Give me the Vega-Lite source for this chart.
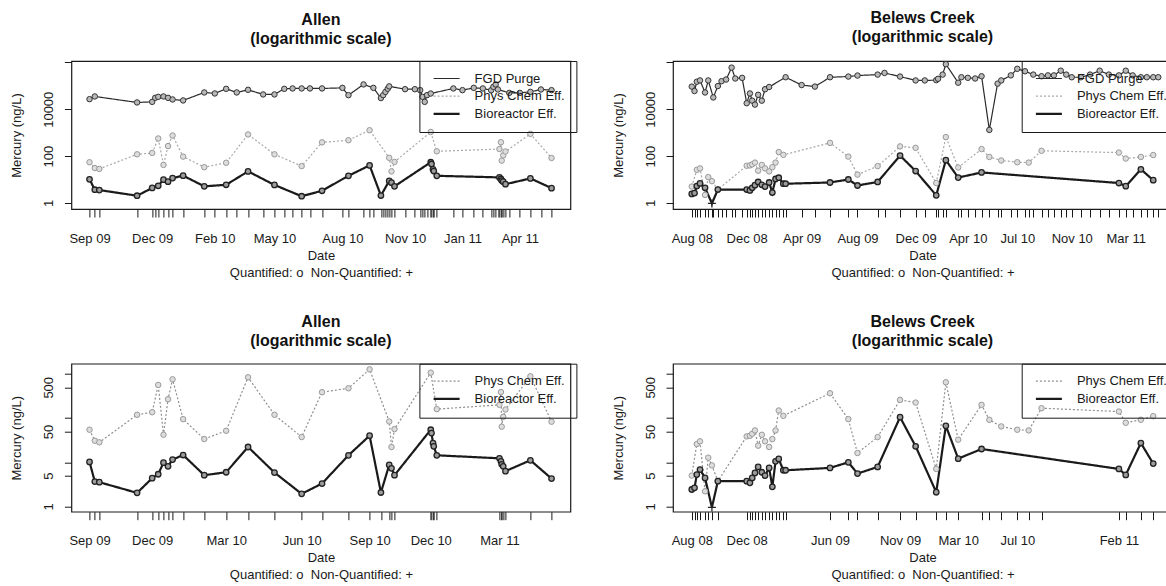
{
  "$schema": "https://vega.github.io/schema/vega-lite/v6.json",
  "background": "white",
  "autosize": {"type": "none"},
  "padding": {"left": 71.4, "top": 61, "right": 1094.6, "bottom": 525},
  "datasets": {
    "allen": [
      {"series":"FGD Purge","date":"2009-09-10","value":27000},
      {"series":"FGD Purge","date":"2009-09-17","value":35200},
      {"series":"FGD Purge","date":"2009-11-12","value":19500},
      {"series":"FGD Purge","date":"2009-12-02","value":20700},
      {"series":"FGD Purge","date":"2009-12-06","value":30700},
      {"series":"FGD Purge","date":"2009-12-10","value":33900},
      {"series":"FGD Purge","date":"2009-12-17","value":35200},
      {"series":"FGD Purge","date":"2009-12-23","value":30700},
      {"series":"FGD Purge","date":"2009-12-29","value":26200},
      {"series":"FGD Purge","date":"2010-01-12","value":23800},
      {"series":"FGD Purge","date":"2010-02-09","value":52200},
      {"series":"FGD Purge","date":"2010-02-23","value":47300},
      {"series":"FGD Purge","date":"2010-03-10","value":74500},
      {"series":"FGD Purge","date":"2010-03-24","value":52200},
      {"series":"FGD Purge","date":"2010-04-08","value":67600},
      {"series":"FGD Purge","date":"2010-04-28","value":42900},
      {"series":"FGD Purge","date":"2010-05-13","value":42900},
      {"series":"FGD Purge","date":"2010-05-26","value":74500},
      {"series":"FGD Purge","date":"2010-06-06","value":77400},
      {"series":"FGD Purge","date":"2010-06-18","value":77400},
      {"series":"FGD Purge","date":"2010-06-29","value":77400},
      {"series":"FGD Purge","date":"2010-07-15","value":77400},
      {"series":"FGD Purge","date":"2010-08-11","value":82000},
      {"series":"FGD Purge","date":"2010-08-19","value":40000},
      {"series":"FGD Purge","date":"2010-09-08","value":115000},
      {"series":"FGD Purge","date":"2010-09-21","value":82000},
      {"series":"FGD Purge","date":"2010-10-01","value":30000},
      {"series":"FGD Purge","date":"2010-10-04","value":40000},
      {"series":"FGD Purge","date":"2010-10-07","value":55000},
      {"series":"FGD Purge","date":"2010-10-10","value":75000},
      {"series":"FGD Purge","date":"2010-10-12","value":95000},
      {"series":"FGD Purge","date":"2010-11-02","value":72000},
      {"series":"FGD Purge","date":"2010-11-15","value":72000},
      {"series":"FGD Purge","date":"2010-11-22","value":65500},
      {"series":"FGD Purge","date":"2010-11-25","value":33900},
      {"series":"FGD Purge","date":"2010-11-28","value":20700},
      {"series":"FGD Purge","date":"2010-12-01","value":40000},
      {"series":"FGD Purge","date":"2010-12-06","value":47000},
      {"series":"FGD Purge","date":"2011-01-05","value":77400},
      {"series":"FGD Purge","date":"2011-01-17","value":65500},
      {"series":"FGD Purge","date":"2011-02-01","value":82000},
      {"series":"FGD Purge","date":"2011-02-13","value":77400},
      {"series":"FGD Purge","date":"2011-02-24","value":65000},
      {"series":"FGD Purge","date":"2011-02-27","value":90600},
      {"series":"FGD Purge","date":"2011-03-02","value":115000},
      {"series":"FGD Purge","date":"2011-03-05","value":70000},
      {"series":"FGD Purge","date":"2011-03-20","value":50000},
      {"series":"FGD Purge","date":"2011-04-03","value":50000},
      {"series":"FGD Purge","date":"2011-04-17","value":55400},
      {"series":"FGD Purge","date":"2011-05-01","value":70000},
      {"series":"FGD Purge","date":"2011-05-15","value":65500},
      {"series":"Phys Chem Eff.","date":"2009-09-10","value":54.6},
      {"series":"Phys Chem Eff.","date":"2009-09-17","value":30.8},
      {"series":"Phys Chem Eff.","date":"2009-09-23","value":28.3},
      {"series":"Phys Chem Eff.","date":"2009-11-12","value":119},
      {"series":"Phys Chem Eff.","date":"2009-12-02","value":136},
      {"series":"Phys Chem Eff.","date":"2009-12-10","value":565},
      {"series":"Phys Chem Eff.","date":"2009-12-17","value":42},
      {"series":"Phys Chem Eff.","date":"2009-12-23","value":268},
      {"series":"Phys Chem Eff.","date":"2009-12-29","value":758},
      {"series":"Phys Chem Eff.","date":"2010-01-12","value":95},
      {"series":"Phys Chem Eff.","date":"2010-02-09","value":33.6},
      {"series":"Phys Chem Eff.","date":"2010-03-10","value":51.8},
      {"series":"Phys Chem Eff.","date":"2010-04-08","value":841},
      {"series":"Phys Chem Eff.","date":"2010-05-13","value":119},
      {"series":"Phys Chem Eff.","date":"2010-06-18","value":37.3},
      {"series":"Phys Chem Eff.","date":"2010-07-15","value":386},
      {"series":"Phys Chem Eff.","date":"2010-08-19","value":475},
      {"series":"Phys Chem Eff.","date":"2010-09-16","value":1274},
      {"series":"Phys Chem Eff.","date":"2010-10-12","value":84},
      {"series":"Phys Chem Eff.","date":"2010-10-15","value":22.2},
      {"series":"Phys Chem Eff.","date":"2010-10-19","value":56.5},
      {"series":"Phys Chem Eff.","date":"2010-12-06","value":1072},
      {"series":"Phys Chem Eff.","date":"2010-12-14","value":160},
      {"series":"Phys Chem Eff.","date":"2011-03-07","value":200},
      {"series":"Phys Chem Eff.","date":"2011-03-09","value":390},
      {"series":"Phys Chem Eff.","date":"2011-03-10","value":64},
      {"series":"Phys Chem Eff.","date":"2011-03-12","value":107},
      {"series":"Phys Chem Eff.","date":"2011-03-15","value":157},
      {"series":"Phys Chem Eff.","date":"2011-04-17","value":888},
      {"series":"Phys Chem Eff.","date":"2011-05-15","value":83},
      {"series":"Bioreactor Eff.","date":"2009-09-10","value":10.2},
      {"series":"Bioreactor Eff.","date":"2009-09-17","value":3.66},
      {"series":"Bioreactor Eff.","date":"2009-09-23","value":3.54},
      {"series":"Bioreactor Eff.","date":"2009-11-12","value":2.03},
      {"series":"Bioreactor Eff.","date":"2009-12-02","value":4.36},
      {"series":"Bioreactor Eff.","date":"2009-12-10","value":5.36},
      {"series":"Bioreactor Eff.","date":"2009-12-17","value":9.8},
      {"series":"Bioreactor Eff.","date":"2009-12-23","value":8.1},
      {"series":"Bioreactor Eff.","date":"2009-12-29","value":11.5},
      {"series":"Bioreactor Eff.","date":"2010-01-12","value":14.6},
      {"series":"Bioreactor Eff.","date":"2010-02-09","value":5.1},
      {"series":"Bioreactor Eff.","date":"2010-03-10","value":5.95},
      {"series":"Bioreactor Eff.","date":"2010-04-08","value":22.2},
      {"series":"Bioreactor Eff.","date":"2010-05-13","value":5.85},
      {"series":"Bioreactor Eff.","date":"2010-06-18","value":1.93},
      {"series":"Bioreactor Eff.","date":"2010-07-15","value":3.3},
      {"series":"Bioreactor Eff.","date":"2010-08-19","value":14.4},
      {"series":"Bioreactor Eff.","date":"2010-09-16","value":40},
      {"series":"Bioreactor Eff.","date":"2010-10-01","value":2.07},
      {"series":"Bioreactor Eff.","date":"2010-10-12","value":8.7},
      {"series":"Bioreactor Eff.","date":"2010-10-15","value":7.3},
      {"series":"Bioreactor Eff.","date":"2010-10-19","value":5.1},
      {"series":"Bioreactor Eff.","date":"2010-12-06","value":54.6},
      {"series":"Bioreactor Eff.","date":"2010-12-07","value":45.9},
      {"series":"Bioreactor Eff.","date":"2010-12-09","value":27.3},
      {"series":"Bioreactor Eff.","date":"2010-12-10","value":23},
      {"series":"Bioreactor Eff.","date":"2010-12-14","value":14.4},
      {"series":"Bioreactor Eff.","date":"2011-03-07","value":12.3},
      {"series":"Bioreactor Eff.","date":"2011-03-09","value":10.5},
      {"series":"Bioreactor Eff.","date":"2011-03-10","value":9.0},
      {"series":"Bioreactor Eff.","date":"2011-03-12","value":8.1},
      {"series":"Bioreactor Eff.","date":"2011-03-15","value":6.3},
      {"series":"Bioreactor Eff.","date":"2011-04-17","value":11.1},
      {"series":"Bioreactor Eff.","date":"2011-05-15","value":4.28}
    ],
    "belews": [
      {"series":"FGD Purge","date":"2008-08-08","value":92700},
      {"series":"FGD Purge","date":"2008-08-14","value":60000},
      {"series":"FGD Purge","date":"2008-08-19","value":150000},
      {"series":"FGD Purge","date":"2008-08-26","value":170000},
      {"series":"FGD Purge","date":"2008-09-06","value":52000},
      {"series":"FGD Purge","date":"2008-09-13","value":170000},
      {"series":"FGD Purge","date":"2008-09-24","value":32000},
      {"series":"FGD Purge","date":"2008-10-04","value":98000},
      {"series":"FGD Purge","date":"2008-10-12","value":158000},
      {"series":"FGD Purge","date":"2008-10-22","value":186000},
      {"series":"FGD Purge","date":"2008-11-03","value":600000},
      {"series":"FGD Purge","date":"2008-11-11","value":206000},
      {"series":"FGD Purge","date":"2008-11-26","value":219000},
      {"series":"FGD Purge","date":"2008-12-06","value":18100},
      {"series":"FGD Purge","date":"2008-12-13","value":47300},
      {"series":"FGD Purge","date":"2008-12-18","value":23300},
      {"series":"FGD Purge","date":"2008-12-24","value":15800},
      {"series":"FGD Purge","date":"2008-12-31","value":41400},
      {"series":"FGD Purge","date":"2009-01-08","value":23300},
      {"series":"FGD Purge","date":"2009-01-15","value":71500},
      {"series":"FGD Purge","date":"2009-01-24","value":89100},
      {"series":"FGD Purge","date":"2009-03-01","value":233000},
      {"series":"FGD Purge","date":"2009-04-05","value":108000},
      {"series":"FGD Purge","date":"2009-05-04","value":92700},
      {"series":"FGD Purge","date":"2009-06-06","value":233000},
      {"series":"FGD Purge","date":"2009-07-16","value":249000},
      {"series":"FGD Purge","date":"2009-08-05","value":275000},
      {"series":"FGD Purge","date":"2009-09-18","value":302000},
      {"series":"FGD Purge","date":"2009-10-03","value":355000},
      {"series":"FGD Purge","date":"2009-11-06","value":249000},
      {"series":"FGD Purge","date":"2009-12-10","value":170000},
      {"series":"FGD Purge","date":"2009-12-30","value":170000},
      {"series":"FGD Purge","date":"2010-01-24","value":175000},
      {"series":"FGD Purge","date":"2010-01-28","value":200000},
      {"series":"FGD Purge","date":"2010-02-07","value":302000},
      {"series":"FGD Purge","date":"2010-02-14","value":842000},
      {"series":"FGD Purge","date":"2010-03-13","value":136000},
      {"series":"FGD Purge","date":"2010-03-20","value":233000},
      {"series":"FGD Purge","date":"2010-04-03","value":220000},
      {"series":"FGD Purge","date":"2010-04-19","value":206000},
      {"series":"FGD Purge","date":"2010-05-03","value":257000},
      {"series":"FGD Purge","date":"2010-05-20","value":1310},
      {"series":"FGD Purge","date":"2010-06-07","value":124000},
      {"series":"FGD Purge","date":"2010-06-15","value":170000},
      {"series":"FGD Purge","date":"2010-07-06","value":280000},
      {"series":"FGD Purge","date":"2010-07-20","value":534000},
      {"series":"FGD Purge","date":"2010-08-06","value":420000},
      {"series":"FGD Purge","date":"2010-08-24","value":302000},
      {"series":"FGD Purge","date":"2010-09-11","value":257000},
      {"series":"FGD Purge","date":"2010-09-25","value":280000},
      {"series":"FGD Purge","date":"2010-10-08","value":280000},
      {"series":"FGD Purge","date":"2010-10-23","value":443000},
      {"series":"FGD Purge","date":"2010-11-04","value":302000},
      {"series":"FGD Purge","date":"2010-11-16","value":233000},
      {"series":"FGD Purge","date":"2010-12-06","value":233000},
      {"series":"FGD Purge","date":"2010-12-26","value":302000},
      {"series":"FGD Purge","date":"2011-01-16","value":443000},
      {"series":"FGD Purge","date":"2011-02-05","value":302000},
      {"series":"FGD Purge","date":"2011-02-27","value":280000},
      {"series":"FGD Purge","date":"2011-03-14","value":443000},
      {"series":"FGD Purge","date":"2011-03-29","value":280000},
      {"series":"FGD Purge","date":"2011-04-16","value":233000},
      {"series":"FGD Purge","date":"2011-04-29","value":233000},
      {"series":"FGD Purge","date":"2011-05-13","value":233000},
      {"series":"FGD Purge","date":"2011-05-24","value":233000},
      {"series":"Phys Chem Eff.","date":"2008-08-08","value":5.0},
      {"series":"Phys Chem Eff.","date":"2008-08-19","value":25.9},
      {"series":"Phys Chem Eff.","date":"2008-08-26","value":29.8},
      {"series":"Phys Chem Eff.","date":"2008-09-06","value":2.2},
      {"series":"Phys Chem Eff.","date":"2008-09-13","value":12.7},
      {"series":"Phys Chem Eff.","date":"2008-09-21","value":8.5},
      {"series":"Phys Chem Eff.","date":"2008-10-04","value":3.73},
      {"series":"Phys Chem Eff.","date":"2008-12-06","value":38.6},
      {"series":"Phys Chem Eff.","date":"2008-12-13","value":39.9},
      {"series":"Phys Chem Eff.","date":"2008-12-18","value":44.3},
      {"series":"Phys Chem Eff.","date":"2008-12-24","value":52.7},
      {"series":"Phys Chem Eff.","date":"2008-12-31","value":23.8},
      {"series":"Phys Chem Eff.","date":"2009-01-08","value":42},
      {"series":"Phys Chem Eff.","date":"2009-01-15","value":29.8},
      {"series":"Phys Chem Eff.","date":"2009-01-24","value":22.2},
      {"series":"Phys Chem Eff.","date":"2009-01-31","value":33.6},
      {"series":"Phys Chem Eff.","date":"2009-02-07","value":52.7},
      {"series":"Phys Chem Eff.","date":"2009-02-14","value":149},
      {"series":"Phys Chem Eff.","date":"2009-02-24","value":113},
      {"series":"Phys Chem Eff.","date":"2009-06-06","value":366},
      {"series":"Phys Chem Eff.","date":"2009-07-16","value":95},
      {"series":"Phys Chem Eff.","date":"2009-08-05","value":16.2},
      {"series":"Phys Chem Eff.","date":"2009-09-18","value":37.3},
      {"series":"Phys Chem Eff.","date":"2009-11-06","value":259},
      {"series":"Phys Chem Eff.","date":"2009-12-10","value":225},
      {"series":"Phys Chem Eff.","date":"2010-01-24","value":7.07},
      {"series":"Phys Chem Eff.","date":"2010-02-14","value":649},
      {"series":"Phys Chem Eff.","date":"2010-03-13","value":32.5},
      {"series":"Phys Chem Eff.","date":"2010-05-03","value":200},
      {"series":"Phys Chem Eff.","date":"2010-05-20","value":91.7},
      {"series":"Phys Chem Eff.","date":"2010-06-15","value":64.9},
      {"series":"Phys Chem Eff.","date":"2010-07-20","value":54.6},
      {"series":"Phys Chem Eff.","date":"2010-08-14","value":52.7},
      {"series":"Phys Chem Eff.","date":"2010-09-11","value":168},
      {"series":"Phys Chem Eff.","date":"2011-02-27","value":141},
      {"series":"Phys Chem Eff.","date":"2011-03-14","value":78.5},
      {"series":"Phys Chem Eff.","date":"2011-04-16","value":92},
      {"series":"Phys Chem Eff.","date":"2011-05-13","value":111},
      {"series":"Bioreactor Eff.","date":"2008-08-08","value":2.42},
      {"series":"Bioreactor Eff.","date":"2008-08-14","value":2.64},
      {"series":"Bioreactor Eff.","date":"2008-08-19","value":5.27},
      {"series":"Bioreactor Eff.","date":"2008-08-26","value":6.83},
      {"series":"Bioreactor Eff.","date":"2008-09-06","value":4.43},
      {"series":"Bioreactor Eff.","date":"2008-09-21","value":0.95,"q":"+"},
      {"series":"Bioreactor Eff.","date":"2008-10-04","value":3.73},
      {"series":"Bioreactor Eff.","date":"2008-12-06","value":3.73},
      {"series":"Bioreactor Eff.","date":"2008-12-13","value":3.42},
      {"series":"Bioreactor Eff.","date":"2008-12-18","value":4.43},
      {"series":"Bioreactor Eff.","date":"2008-12-24","value":5.74},
      {"series":"Bioreactor Eff.","date":"2008-12-31","value":7.85},
      {"series":"Bioreactor Eff.","date":"2009-01-08","value":5.95},
      {"series":"Bioreactor Eff.","date":"2009-01-15","value":5.0},
      {"series":"Bioreactor Eff.","date":"2009-01-24","value":7.45},
      {"series":"Bioreactor Eff.","date":"2009-01-31","value":2.78},
      {"series":"Bioreactor Eff.","date":"2009-02-07","value":10.5},
      {"series":"Bioreactor Eff.","date":"2009-02-14","value":11.9},
      {"series":"Bioreactor Eff.","date":"2009-02-24","value":6.6},
      {"series":"Bioreactor Eff.","date":"2009-03-01","value":6.6},
      {"series":"Bioreactor Eff.","date":"2009-06-06","value":7.45},
      {"series":"Bioreactor Eff.","date":"2009-07-16","value":10},
      {"series":"Bioreactor Eff.","date":"2009-08-05","value":5.55},
      {"series":"Bioreactor Eff.","date":"2009-09-18","value":7.85},
      {"series":"Bioreactor Eff.","date":"2009-11-06","value":105},
      {"series":"Bioreactor Eff.","date":"2009-12-10","value":23},
      {"series":"Bioreactor Eff.","date":"2010-01-24","value":2.1},
      {"series":"Bioreactor Eff.","date":"2010-02-14","value":67},
      {"series":"Bioreactor Eff.","date":"2010-03-13","value":12.1},
      {"series":"Bioreactor Eff.","date":"2010-05-03","value":20},
      {"series":"Bioreactor Eff.","date":"2011-02-27","value":7.07},
      {"series":"Bioreactor Eff.","date":"2011-03-14","value":5.18},
      {"series":"Bioreactor Eff.","date":"2011-04-16","value":27.3},
      {"series":"Bioreactor Eff.","date":"2011-05-13","value":9.33}
    ]
  },
  "columns": 2,
  "spacing": {"row": 154.7, "column": 102.6},
  "bounds": "flush",
  "resolve": {
    "scale": {"stroke": "independent", "strokeDash": "independent", "strokeWidth": "independent"},
    "legend": {"stroke": "independent", "strokeDash": "independent", "strokeWidth": "independent"}
  },
  "concat": [
    {
      "width": 499, "height": 148,
      "data": {"name": "allen"},
      "title": {"text": ["Allen", "(logarithmic scale)"]},
      "encoding": {
        "x": {"field": "date", "type": "temporal",
          "scale": {"domain": [{"year":2009,"month":8,"date":17,"utc":true},{"year":2011,"month":6,"date":9,"utc":true}], "nice": false},
          "axis": {"title": ["Date", "Quantified: o\u00a0 Non-Quantified: +"],
            "labelExpr": "indexof(['2009-09-10','2009-12-02','2010-02-23','2010-05-13','2010-08-11','2010-11-02','2011-01-17','2011-04-03'], utcFormat(datum.value, '%Y-%m-%d')) >= 0 ? utcFormat(datum.value, '%b %y') : ''",
            "values": [
              {"year":2009,"month":9,"date":10,"utc":true},{"year":2009,"month":9,"date":17,"utc":true},{"year":2009,"month":9,"date":23,"utc":true},{"year":2009,"month":11,"date":12,"utc":true},{"year":2009,"month":12,"date":2,"utc":true},{"year":2009,"month":12,"date":6,"utc":true},{"year":2009,"month":12,"date":10,"utc":true},{"year":2009,"month":12,"date":17,"utc":true},{"year":2009,"month":12,"date":23,"utc":true},{"year":2009,"month":12,"date":29,"utc":true},
              {"year":2010,"month":1,"date":12,"utc":true},{"year":2010,"month":2,"date":9,"utc":true},{"year":2010,"month":2,"date":23,"utc":true},{"year":2010,"month":3,"date":10,"utc":true},{"year":2010,"month":3,"date":24,"utc":true},{"year":2010,"month":4,"date":8,"utc":true},{"year":2010,"month":4,"date":28,"utc":true},{"year":2010,"month":5,"date":13,"utc":true},{"year":2010,"month":5,"date":26,"utc":true},{"year":2010,"month":6,"date":6,"utc":true},{"year":2010,"month":6,"date":18,"utc":true},{"year":2010,"month":6,"date":29,"utc":true},{"year":2010,"month":7,"date":15,"utc":true},{"year":2010,"month":8,"date":11,"utc":true},{"year":2010,"month":8,"date":19,"utc":true},{"year":2010,"month":9,"date":8,"utc":true},{"year":2010,"month":9,"date":16,"utc":true},{"year":2010,"month":9,"date":21,"utc":true},{"year":2010,"month":10,"date":1,"utc":true},{"year":2010,"month":10,"date":4,"utc":true},{"year":2010,"month":10,"date":7,"utc":true},{"year":2010,"month":10,"date":10,"utc":true},{"year":2010,"month":10,"date":12,"utc":true},{"year":2010,"month":10,"date":15,"utc":true},{"year":2010,"month":10,"date":19,"utc":true},{"year":2010,"month":11,"date":2,"utc":true},{"year":2010,"month":11,"date":15,"utc":true},{"year":2010,"month":11,"date":22,"utc":true},{"year":2010,"month":11,"date":25,"utc":true},{"year":2010,"month":11,"date":28,"utc":true},{"year":2010,"month":12,"date":1,"utc":true},{"year":2010,"month":12,"date":6,"utc":true},{"year":2010,"month":12,"date":7,"utc":true},{"year":2010,"month":12,"date":9,"utc":true},{"year":2010,"month":12,"date":10,"utc":true},{"year":2010,"month":12,"date":14,"utc":true},
              {"year":2011,"month":1,"date":5,"utc":true},{"year":2011,"month":1,"date":17,"utc":true},{"year":2011,"month":2,"date":1,"utc":true},{"year":2011,"month":2,"date":13,"utc":true},{"year":2011,"month":2,"date":24,"utc":true},{"year":2011,"month":2,"date":27,"utc":true},{"year":2011,"month":3,"date":2,"utc":true},{"year":2011,"month":3,"date":5,"utc":true},{"year":2011,"month":3,"date":7,"utc":true},{"year":2011,"month":3,"date":9,"utc":true},{"year":2011,"month":3,"date":10,"utc":true},{"year":2011,"month":3,"date":12,"utc":true},{"year":2011,"month":3,"date":15,"utc":true},{"year":2011,"month":3,"date":20,"utc":true},{"year":2011,"month":4,"date":3,"utc":true},{"year":2011,"month":4,"date":17,"utc":true},{"year":2011,"month":5,"date":1,"utc":true},{"year":2011,"month":5,"date":15,"utc":true}
            ]}},
        "y": {"field": "value", "type": "quantitative",
          "scale": {"type": "log", "domain": [0.55, 1150000], "nice": false},
          "axis": {"title": "Mercury (ng/L)", "values": [1, 100, 10000, 1000000],
            "labelExpr": "datum.value > 100000 ? '' : format(datum.value, 'd')"}}
      },
      "layer": [
        {"mark": {"type": "line"},
         "encoding": {
           "stroke": {"field": "series", "type": "nominal",
             "scale": {"domain": ["FGD Purge", "Phys Chem Eff.", "Bioreactor Eff."], "range": ["#2b2b2b", "#a8a8a8", "#1a1a1a"]},
             "legend": {"title": null, "orient": "none", "legendX": 348, "legendY": 0, "padding": 11, "strokeColor": "#1a1a1a", "symbolType": "M-0.825,0L5.675,0", "symbolSize": 64, "labelOffset": 31.2, "rowPadding": 3.7, "labelFontSize": 13, "labelFont": "Liberation Sans", "labelColor": "#1a1a1a"}},
           "strokeDash": {"field": "series", "type": "nominal",
             "scale": {"domain": ["FGD Purge", "Phys Chem Eff.", "Bioreactor Eff."], "range": [[1, 0], [2, 2], [1, 0]]}},
           "strokeWidth": {"field": "series", "type": "nominal",
             "scale": {"type": "ordinal", "domain": ["FGD Purge", "Phys Chem Eff.", "Bioreactor Eff."], "range": [1.2, 1.2, 2.2]}}
         }},
        {"transform": [{"filter": "datum.series === 'FGD Purge'"}],
         "mark": {"type": "point", "shape": "circle", "size": 30, "filled": true, "fill": "#b8b8b8", "stroke": "#333333", "strokeWidth": 1, "opacity": 1}},
        {"transform": [{"filter": "datum.series === 'Phys Chem Eff.'"}],
         "mark": {"type": "point", "shape": "circle", "size": 30, "filled": true, "fill": "#dddddd", "stroke": "#999999", "strokeWidth": 1, "opacity": 1}},
        {"transform": [{"filter": "datum.series === 'Bioreactor Eff.' && datum.q !== '+'"}],
         "mark": {"type": "point", "shape": "circle", "size": 30, "filled": true, "fill": "#9d9d9d", "stroke": "#222222", "strokeWidth": 1.3, "opacity": 1}}
      ]
    },
    {
      "width": 499, "height": 148,
      "data": {"name": "belews"},
      "title": {"text": ["Belews Creek", "(logarithmic scale)"]},
      "encoding": {
        "x": {"field": "date", "type": "temporal",
          "scale": {"domain": [{"year":2008,"month":6,"date":28,"utc":true},{"year":2011,"month":6,"date":23,"utc":true}], "nice": false},
          "axis": {"title": ["Date", "Quantified: o\u00a0 Non-Quantified: +"],
            "labelExpr": "indexof(['2008-08-08','2008-12-06','2009-04-05','2009-08-05','2009-12-10','2010-04-03','2010-07-20','2010-11-16','2011-03-14'], utcFormat(datum.value, '%Y-%m-%d')) >= 0 ? utcFormat(datum.value, '%b %y') : ''",
            "values": [
              {"year":2008,"month":8,"date":8,"utc":true},{"year":2008,"month":8,"date":14,"utc":true},{"year":2008,"month":8,"date":19,"utc":true},{"year":2008,"month":8,"date":26,"utc":true},{"year":2008,"month":9,"date":6,"utc":true},{"year":2008,"month":9,"date":13,"utc":true},{"year":2008,"month":9,"date":21,"utc":true},{"year":2008,"month":9,"date":24,"utc":true},{"year":2008,"month":10,"date":4,"utc":true},{"year":2008,"month":10,"date":12,"utc":true},{"year":2008,"month":10,"date":22,"utc":true},{"year":2008,"month":11,"date":3,"utc":true},{"year":2008,"month":11,"date":11,"utc":true},{"year":2008,"month":11,"date":26,"utc":true},{"year":2008,"month":12,"date":6,"utc":true},{"year":2008,"month":12,"date":13,"utc":true},{"year":2008,"month":12,"date":18,"utc":true},{"year":2008,"month":12,"date":24,"utc":true},{"year":2008,"month":12,"date":31,"utc":true},
              {"year":2009,"month":1,"date":8,"utc":true},{"year":2009,"month":1,"date":15,"utc":true},{"year":2009,"month":1,"date":24,"utc":true},{"year":2009,"month":1,"date":31,"utc":true},{"year":2009,"month":2,"date":7,"utc":true},{"year":2009,"month":2,"date":14,"utc":true},{"year":2009,"month":2,"date":24,"utc":true},{"year":2009,"month":3,"date":1,"utc":true},{"year":2009,"month":4,"date":5,"utc":true},{"year":2009,"month":5,"date":4,"utc":true},{"year":2009,"month":6,"date":6,"utc":true},{"year":2009,"month":7,"date":16,"utc":true},{"year":2009,"month":8,"date":5,"utc":true},{"year":2009,"month":9,"date":18,"utc":true},{"year":2009,"month":10,"date":3,"utc":true},{"year":2009,"month":11,"date":6,"utc":true},{"year":2009,"month":12,"date":10,"utc":true},{"year":2009,"month":12,"date":30,"utc":true},
              {"year":2010,"month":1,"date":24,"utc":true},{"year":2010,"month":1,"date":28,"utc":true},{"year":2010,"month":2,"date":7,"utc":true},{"year":2010,"month":2,"date":14,"utc":true},{"year":2010,"month":3,"date":13,"utc":true},{"year":2010,"month":3,"date":20,"utc":true},{"year":2010,"month":4,"date":3,"utc":true},{"year":2010,"month":4,"date":19,"utc":true},{"year":2010,"month":5,"date":3,"utc":true},{"year":2010,"month":5,"date":20,"utc":true},{"year":2010,"month":6,"date":7,"utc":true},{"year":2010,"month":6,"date":15,"utc":true},{"year":2010,"month":7,"date":6,"utc":true},{"year":2010,"month":7,"date":20,"utc":true},{"year":2010,"month":8,"date":6,"utc":true},{"year":2010,"month":8,"date":14,"utc":true},{"year":2010,"month":8,"date":24,"utc":true},{"year":2010,"month":9,"date":11,"utc":true},{"year":2010,"month":9,"date":25,"utc":true},{"year":2010,"month":10,"date":8,"utc":true},{"year":2010,"month":10,"date":23,"utc":true},{"year":2010,"month":11,"date":4,"utc":true},{"year":2010,"month":11,"date":16,"utc":true},{"year":2010,"month":12,"date":6,"utc":true},{"year":2010,"month":12,"date":26,"utc":true},
              {"year":2011,"month":1,"date":16,"utc":true},{"year":2011,"month":2,"date":5,"utc":true},{"year":2011,"month":2,"date":27,"utc":true},{"year":2011,"month":3,"date":14,"utc":true},{"year":2011,"month":3,"date":29,"utc":true},{"year":2011,"month":4,"date":16,"utc":true},{"year":2011,"month":4,"date":29,"utc":true},{"year":2011,"month":5,"date":13,"utc":true},{"year":2011,"month":5,"date":24,"utc":true}
            ]}},
        "y": {"field": "value", "type": "quantitative",
          "scale": {"type": "log", "domain": [0.55, 1150000], "nice": false},
          "axis": {"title": "Mercury (ng/L)", "values": [1, 100, 10000, 1000000],
            "labelExpr": "datum.value > 100000 ? '' : format(datum.value, 'd')"}}
      },
      "layer": [
        {"mark": {"type": "line"},
         "encoding": {
           "stroke": {"field": "series", "type": "nominal",
             "scale": {"domain": ["FGD Purge", "Phys Chem Eff.", "Bioreactor Eff."], "range": ["#2b2b2b", "#a8a8a8", "#1a1a1a"]},
             "legend": {"title": null, "orient": "none", "legendX": 348.7, "legendY": 0, "padding": 11, "strokeColor": "#1a1a1a", "symbolType": "M-0.825,0L5.675,0", "symbolSize": 64, "labelOffset": 31.2, "rowPadding": 3.7, "labelFontSize": 13, "labelFont": "Liberation Sans", "labelColor": "#1a1a1a"}},
           "strokeDash": {"field": "series", "type": "nominal",
             "scale": {"domain": ["FGD Purge", "Phys Chem Eff.", "Bioreactor Eff."], "range": [[1, 0], [2, 2], [1, 0]]}},
           "strokeWidth": {"field": "series", "type": "nominal",
             "scale": {"type": "ordinal", "domain": ["FGD Purge", "Phys Chem Eff.", "Bioreactor Eff."], "range": [1.2, 1.2, 2.2]}}
         }},
        {"transform": [{"filter": "datum.series === 'FGD Purge'"}],
         "mark": {"type": "point", "shape": "circle", "size": 30, "filled": true, "fill": "#b8b8b8", "stroke": "#333333", "strokeWidth": 1, "opacity": 1}},
        {"transform": [{"filter": "datum.series === 'Phys Chem Eff.'"}],
         "mark": {"type": "point", "shape": "circle", "size": 30, "filled": true, "fill": "#dddddd", "stroke": "#999999", "strokeWidth": 1, "opacity": 1}},
        {"transform": [{"filter": "datum.series === 'Bioreactor Eff.' && datum.q !== '+'"}],
         "mark": {"type": "point", "shape": "circle", "size": 30, "filled": true, "fill": "#9d9d9d", "stroke": "#222222", "strokeWidth": 1.3, "opacity": 1}},
        {"transform": [{"filter": "datum.q === '+'"}],
         "mark": {"type": "point", "shape": "M-1,0L1,0M0,-1L0,1", "size": 64, "filled": false, "stroke": "#222222", "strokeWidth": 1.3, "opacity": 1}}
      ]
    },
    {
      "width": 499, "height": 148,
      "data": {"name": "allen"},
      "transform": [{"filter": "datum.series !== 'FGD Purge'"}],
      "title": {"text": ["Allen", "(logarithmic scale)"]},
      "encoding": {
        "x": {"field": "date", "type": "temporal",
          "scale": {"domain": [{"year":2009,"month":8,"date":17,"utc":true},{"year":2011,"month":6,"date":9,"utc":true}], "nice": false},
          "axis": {"title": ["Date", "Quantified: o\u00a0 Non-Quantified: +"],
            "labelExpr": "indexof(['2009-09-10','2009-12-02','2010-03-10','2010-06-18','2010-09-16','2010-12-06','2011-03-07'], utcFormat(datum.value, '%Y-%m-%d')) >= 0 ? utcFormat(datum.value, '%b %y') : ''",
            "values": [
              {"year":2009,"month":9,"date":10,"utc":true},{"year":2009,"month":9,"date":17,"utc":true},{"year":2009,"month":9,"date":23,"utc":true},{"year":2009,"month":11,"date":12,"utc":true},{"year":2009,"month":12,"date":2,"utc":true},{"year":2009,"month":12,"date":10,"utc":true},{"year":2009,"month":12,"date":17,"utc":true},{"year":2009,"month":12,"date":23,"utc":true},{"year":2009,"month":12,"date":29,"utc":true},
              {"year":2010,"month":1,"date":12,"utc":true},{"year":2010,"month":2,"date":9,"utc":true},{"year":2010,"month":3,"date":10,"utc":true},{"year":2010,"month":4,"date":8,"utc":true},{"year":2010,"month":5,"date":13,"utc":true},{"year":2010,"month":6,"date":18,"utc":true},{"year":2010,"month":7,"date":15,"utc":true},{"year":2010,"month":8,"date":19,"utc":true},{"year":2010,"month":9,"date":16,"utc":true},{"year":2010,"month":10,"date":1,"utc":true},{"year":2010,"month":10,"date":12,"utc":true},{"year":2010,"month":10,"date":15,"utc":true},{"year":2010,"month":10,"date":19,"utc":true},{"year":2010,"month":12,"date":6,"utc":true},{"year":2010,"month":12,"date":7,"utc":true},{"year":2010,"month":12,"date":9,"utc":true},{"year":2010,"month":12,"date":10,"utc":true},{"year":2010,"month":12,"date":14,"utc":true},
              {"year":2011,"month":3,"date":7,"utc":true},{"year":2011,"month":3,"date":9,"utc":true},{"year":2011,"month":3,"date":10,"utc":true},{"year":2011,"month":3,"date":12,"utc":true},{"year":2011,"month":3,"date":15,"utc":true},{"year":2011,"month":4,"date":17,"utc":true},{"year":2011,"month":5,"date":15,"utc":true}
            ]}},
        "y": {"field": "value", "type": "quantitative",
          "scale": {"type": "log", "domain": [0.76, 1710], "nice": false},
          "axis": {"title": "Mercury (ng/L)", "values": [1, 5, 10, 50, 100, 500, 1000],
            "labelExpr": "indexof([1, 5, 50, 500], datum.value) >= 0 ? format(datum.value, 'd') : ''"}}
      },
      "layer": [
        {"mark": {"type": "line"},
         "encoding": {
           "stroke": {"field": "series", "type": "nominal",
             "scale": {"domain": ["Phys Chem Eff.", "Bioreactor Eff."], "range": ["#8f8f8f", "#1a1a1a"]},
             "legend": {"title": null, "orient": "none", "legendX": 348, "legendY": 0, "padding": 11, "strokeColor": "#1a1a1a", "symbolType": "M-0.825,0L5.675,0", "symbolSize": 64, "labelOffset": 31.2, "rowPadding": 3.7, "labelFontSize": 13, "labelFont": "Liberation Sans", "labelColor": "#1a1a1a"}},
           "strokeDash": {"field": "series", "type": "nominal",
             "scale": {"domain": ["Phys Chem Eff.", "Bioreactor Eff."], "range": [[2, 2], [1, 0]]}},
           "strokeWidth": {"field": "series", "type": "nominal",
             "scale": {"type": "ordinal", "domain": ["Phys Chem Eff.", "Bioreactor Eff."], "range": [1.2, 2.2]}}
         }},
        {"transform": [{"filter": "datum.series === 'Phys Chem Eff.'"}],
         "mark": {"type": "point", "shape": "circle", "size": 30, "filled": true, "fill": "#dddddd", "stroke": "#999999", "strokeWidth": 1, "opacity": 1}},
        {"transform": [{"filter": "datum.series === 'Bioreactor Eff.' && datum.q !== '+'"}],
         "mark": {"type": "point", "shape": "circle", "size": 30, "filled": true, "fill": "#9d9d9d", "stroke": "#222222", "strokeWidth": 1.3, "opacity": 1}}
      ]
    },
    {
      "width": 499, "height": 148,
      "data": {"name": "belews"},
      "transform": [{"filter": "datum.series !== 'FGD Purge'"}],
      "title": {"text": ["Belews Creek", "(logarithmic scale)"]},
      "encoding": {
        "x": {"field": "date", "type": "temporal",
          "scale": {"domain": [{"year":2008,"month":6,"date":28,"utc":true},{"year":2011,"month":6,"date":23,"utc":true}], "nice": false},
          "axis": {"title": ["Date", "Quantified: o\u00a0 Non-Quantified: +"],
            "labelExpr": "indexof(['2008-08-08','2008-12-06','2009-06-06','2009-11-06','2010-03-13','2010-07-20','2011-02-27'], utcFormat(datum.value, '%Y-%m-%d')) >= 0 ? utcFormat(datum.value, '%b %y') : ''",
            "values": [
              {"year":2008,"month":8,"date":8,"utc":true},{"year":2008,"month":8,"date":14,"utc":true},{"year":2008,"month":8,"date":19,"utc":true},{"year":2008,"month":8,"date":26,"utc":true},{"year":2008,"month":9,"date":6,"utc":true},{"year":2008,"month":9,"date":13,"utc":true},{"year":2008,"month":9,"date":21,"utc":true},{"year":2008,"month":10,"date":4,"utc":true},{"year":2008,"month":12,"date":6,"utc":true},{"year":2008,"month":12,"date":13,"utc":true},{"year":2008,"month":12,"date":18,"utc":true},{"year":2008,"month":12,"date":24,"utc":true},{"year":2008,"month":12,"date":31,"utc":true},
              {"year":2009,"month":1,"date":8,"utc":true},{"year":2009,"month":1,"date":15,"utc":true},{"year":2009,"month":1,"date":24,"utc":true},{"year":2009,"month":1,"date":31,"utc":true},{"year":2009,"month":2,"date":7,"utc":true},{"year":2009,"month":2,"date":14,"utc":true},{"year":2009,"month":2,"date":24,"utc":true},{"year":2009,"month":3,"date":1,"utc":true},{"year":2009,"month":6,"date":6,"utc":true},{"year":2009,"month":7,"date":16,"utc":true},{"year":2009,"month":8,"date":5,"utc":true},{"year":2009,"month":9,"date":18,"utc":true},{"year":2009,"month":11,"date":6,"utc":true},{"year":2009,"month":12,"date":10,"utc":true},
              {"year":2010,"month":1,"date":24,"utc":true},{"year":2010,"month":2,"date":14,"utc":true},{"year":2010,"month":3,"date":13,"utc":true},{"year":2010,"month":5,"date":3,"utc":true},{"year":2010,"month":5,"date":20,"utc":true},{"year":2010,"month":6,"date":15,"utc":true},{"year":2010,"month":7,"date":20,"utc":true},{"year":2010,"month":8,"date":14,"utc":true},{"year":2010,"month":9,"date":11,"utc":true},
              {"year":2011,"month":2,"date":27,"utc":true},{"year":2011,"month":3,"date":14,"utc":true},{"year":2011,"month":4,"date":16,"utc":true},{"year":2011,"month":5,"date":13,"utc":true}
            ]}},
        "y": {"field": "value", "type": "quantitative",
          "scale": {"type": "log", "domain": [0.76, 1710], "nice": false},
          "axis": {"title": "Mercury (ng/L)", "values": [1, 5, 10, 50, 100, 500, 1000],
            "labelExpr": "indexof([1, 5, 50, 500], datum.value) >= 0 ? format(datum.value, 'd') : ''"}}
      },
      "layer": [
        {"mark": {"type": "line"},
         "encoding": {
           "stroke": {"field": "series", "type": "nominal",
             "scale": {"domain": ["Phys Chem Eff.", "Bioreactor Eff."], "range": ["#8f8f8f", "#1a1a1a"]},
             "legend": {"title": null, "orient": "none", "legendX": 348.7, "legendY": 0, "padding": 11, "strokeColor": "#1a1a1a", "symbolType": "M-0.825,0L5.675,0", "symbolSize": 64, "labelOffset": 31.2, "rowPadding": 3.7, "labelFontSize": 13, "labelFont": "Liberation Sans", "labelColor": "#1a1a1a"}},
           "strokeDash": {"field": "series", "type": "nominal",
             "scale": {"domain": ["Phys Chem Eff.", "Bioreactor Eff."], "range": [[2, 2], [1, 0]]}},
           "strokeWidth": {"field": "series", "type": "nominal",
             "scale": {"type": "ordinal", "domain": ["Phys Chem Eff.", "Bioreactor Eff."], "range": [1.2, 2.2]}}
         }},
        {"transform": [{"filter": "datum.series === 'Phys Chem Eff.'"}],
         "mark": {"type": "point", "shape": "circle", "size": 30, "filled": true, "fill": "#dddddd", "stroke": "#999999", "strokeWidth": 1, "opacity": 1}},
        {"transform": [{"filter": "datum.series === 'Bioreactor Eff.' && datum.q !== '+'"}],
         "mark": {"type": "point", "shape": "circle", "size": 30, "filled": true, "fill": "#9d9d9d", "stroke": "#222222", "strokeWidth": 1.3, "opacity": 1}},
        {"transform": [{"filter": "datum.q === '+'"}],
         "mark": {"type": "point", "shape": "M-1,0L1,0M0,-1L0,1", "size": 64, "filled": false, "stroke": "#222222", "strokeWidth": 1.3, "opacity": 1}}
      ]
    }
  ],
  "config": {
    "font": "Liberation Sans",
    "view": {"stroke": "#1a1a1a", "strokeWidth": 1.2},
    "title": {"frame": "group", "anchor": "middle", "offset": 14, "fontSize": 16, "font": "Liberation Sans", "fontWeight": "bold", "lineHeight": 19, "baseline": "bottom", "color": "#111111"},
    "axis": {"domain": false, "grid": false, "ticks": true, "tickColor": "#1a1a1a", "tickWidth": 1,
      "labelFont": "Liberation Sans", "labelFontSize": 13, "labelColor": "#1a1a1a",
      "titleFont": "Liberation Sans", "titleFontSize": 13, "titleFontWeight": "normal", "titleColor": "#1a1a1a",
      "labelOverlap": false, "labelFlush": false, "labelBound": false},
    "axisX": {"tickSize": 8, "labelPadding": 15, "labelAngle": 0, "titleY": 40, "titleBaseline": "top", "titleLineHeight": 17},
    "axisY": {"tickSize": 7, "labelAngle": 270, "labelAlign": "center", "labelBaseline": "bottom", "labelPadding": 9,
      "titleAngle": 270, "titleX": -55, "titleY": 74, "titleBaseline": "middle", "titleAlign": "center"}
  }
}
